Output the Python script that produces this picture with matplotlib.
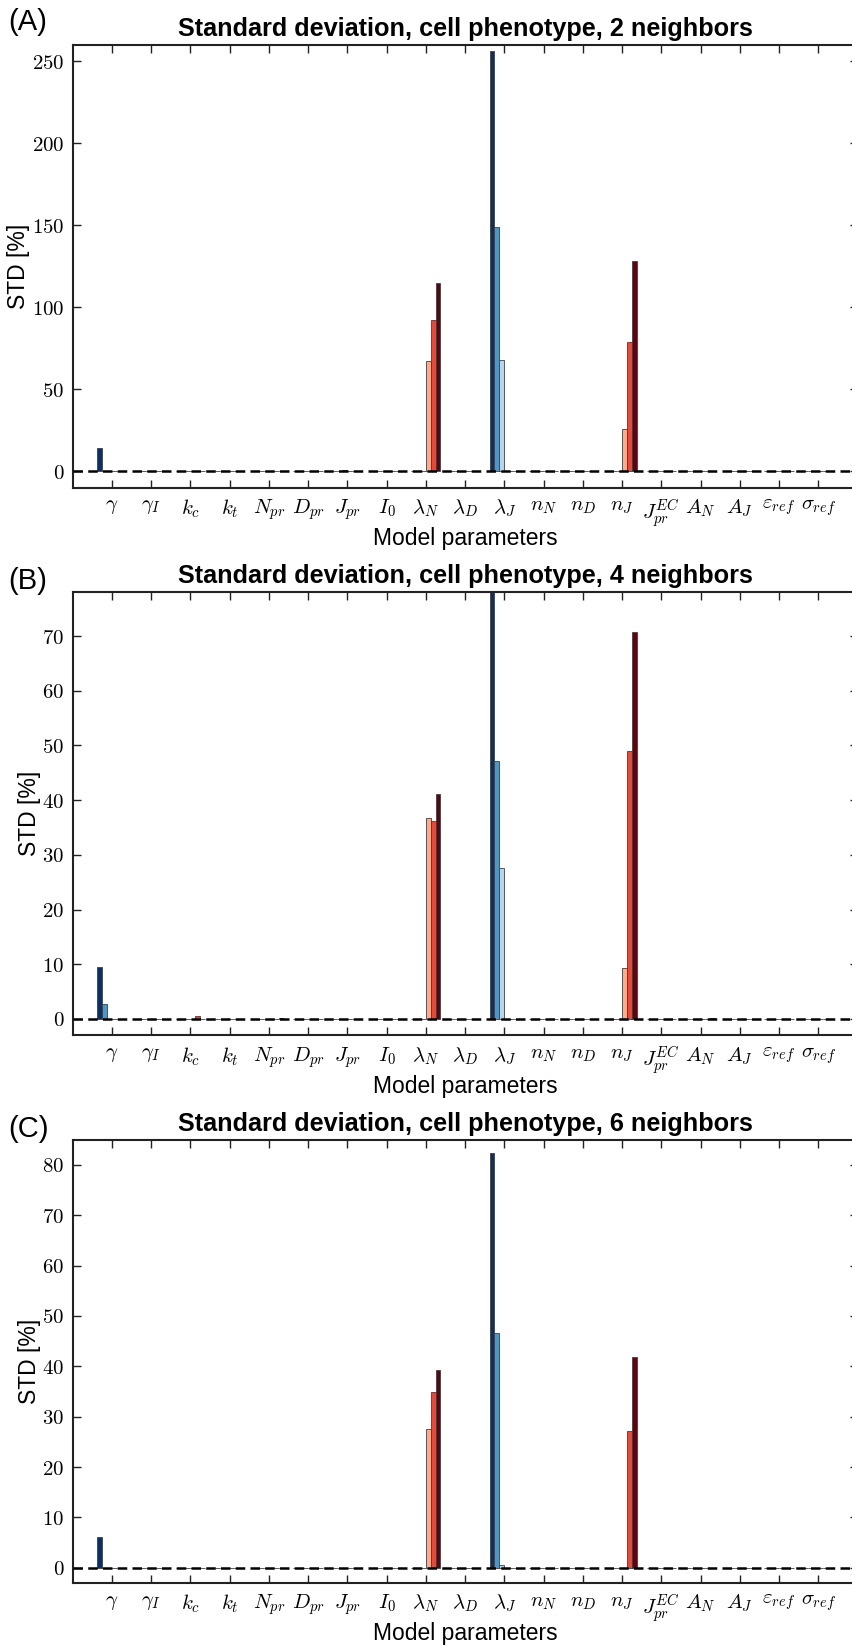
import matplotlib
matplotlib.use("Agg")
import matplotlib.pyplot as plt
import numpy as np
from matplotlib.ticker import FuncFormatter

plt.rcParams['font.family'] = ['Liberation Sans', 'DejaVu Sans']
plt.rcParams['mathtext.fontset'] = 'cm'

# Parametri del modello (asse x)
param_labels = [r'$\gamma$', r'$\gamma_I$', r'$k_c$', r'$k_t$', r'$N_{pr}$', r'$D_{pr}$',
                r'$J_{pr}$', r'$I_0$', r'$\lambda_N$', r'$\lambda_D$', r'$\lambda_J$',
                r'$n_N$', r'$n_D$', r'$n_J$', r'$J_{pr}^{EC}$', r'$A_N$', r'$A_J$',
                r'$\varepsilon_{ref}$', r'$\sigma_{ref}$']

titles = ["Standard deviation, cell phenotype, 2 neighbors",
          "Standard deviation, cell phenotype, 4 neighbors",
          "Standard deviation, cell phenotype, 6 neighbors"]
panel_tags = ["(A)", "(B)", "(C)"]

# STD [%] - 2 neighbors
a_blue_dark  = [14.5, 0, 0, 0, 0, 0, 0, 0, 0, 0, 256, 0, 0, 0, 0, 0, 0, 0, 0]
a_blue_mid   = [0, 0, 0, 0, 0, 0, 0, 0, 0, 0, 149, 0, 0, 0, 0, 0, 0, 0, 0]
a_blue_light = [0, 0, 0, 0, 0, 0, 1.0, 0, 0, 0, 68, 0, 0, 0, 0, 0, 0, 0, 0]
a_red_light  = [0, 0, 0, 0, 0, 0, 0, 0, 67, 0, 0, 0, 0, 26, 0, 0, 0, 0, 0]
a_red_mid    = [0, 0, 0, 0, 0, 0, 0, 0, 92, 0, 0, 0, 0, 79, 0, 0, 0, 0, 0]
a_red_dark   = [0, 0, 0.3, 0, 0, 0, 0, 0, 114.5, 0, 0, 0, 0, 128, 0, 0, 0, 0, 0]

# STD [%] - 4 neighbors
b_blue_dark  = [9.5, 0, 0, 0, 0, 0, 0, 0, 0, 0, 90, 0, 0, 0, 0, 0, 0, 0, 0]
b_blue_mid   = [2.8, 0, 0, 0, 0, 0, 0, 0, 0, 0, 47.2, 0, 0, 0, 0, 0, 0, 0, 0]
b_blue_light = [0, 0, 0, 0, 0, 0, 0, 0, 0, 0, 27.5, 0, 0, 0, 0, 0, 0, 0, 0]
b_red_light  = [0, 0, 0, 0, 0, 0, 0, 0, 36.8, 0, 0, 0, 0, 9.3, 0, 0, 0, 0, 0]
b_red_mid    = [0, 0, 0.5, 0, 0, 0, 0, 0, 36.2, 0, 0, 0, 0, 49.0, 0, 0, 0, 0, 0]
b_red_dark   = [0, 0, 0, 0, 0.2, 0, 0, 0, 41.1, 0, 0, 0, 0, 70.7, 0, 0.2, 0, 0, 0]

# STD [%] - 6 neighbors
c_blue_dark  = [6.0, 0, 0, 0, 0, 0, 0, 0, 0, 0, 82.3, 0, 0, 0, 0, 0, 0, 0, 0]
c_blue_mid   = [0, 0, 0, 0, 0, 0, 0, 0, 0, 0, 46.7, 0, 0, 0, 0, 0, 0, 0, 0]
c_blue_light = [0, 0, 0, 0, 0, 0, 0, 0, 0, 0, 0.5, 0, 0, 0, 0, 0, 0, 0, 0]
c_red_light  = [0, 0, 0, 0, 0, 0, 0, 0, 27.5, 0, 0, 0, 0, 0, 0, 0, 0, 0, 0]
c_red_mid    = [0, 0, 0, 0, 0, 0, 0, 0, 35.0, 0, 0, 0, 0, 27.2, 0, 0, 0, 0, 0]
c_red_dark   = [0, 0, 0, 0, 0, 0, 0, 0, 39.2, 0, 0, 0, 0, 41.8, 0, 0, 0, 0, 0]

panel_series = [
    [a_blue_dark, a_blue_mid, a_blue_light, a_red_light, a_red_mid, a_red_dark],
    [b_blue_dark, b_blue_mid, b_blue_light, b_red_light, b_red_mid, b_red_dark],
    [c_blue_dark, c_blue_mid, c_blue_light, c_red_light, c_red_mid, c_red_dark],
]
y_limits = [(-10, 260), (-3, 78), (-3, 85)]
y_ticks = [np.arange(0, 251, 50), np.arange(0, 71, 10), np.arange(0, 81, 10)]

bar_colors = [plt.cm.Blues(1.0), plt.cm.Blues(0.6), plt.cm.Blues(0.3),
              plt.cm.Reds(0.3), plt.cm.Reds(0.6), plt.cm.Reds(1.0)]
bar_offsets = [-0.375, -0.25, -0.125, 0.0, 0.125, 0.25]
bar_width = 0.125

fig = plt.figure(figsize=(8.52, 16.45), dpi=100)

# posizione degli assi (l'asse destro esce dalla figura come nell'originale)
ax_left, ax_width, ax_height = 72.5 / 852, 785 / 852, 443 / 1645
ax_bottoms = [1 - 487.7 / 1645, 1 - 1035.3 / 1645, 1 - 1582.8 / 1645]
tag_tops = [8.3, 566.7, 1115.0]

x = np.arange(1, len(param_labels) + 1)

for i in range(3):
    ax = fig.add_axes([ax_left, ax_bottoms[i], ax_width, ax_height])

    for serie, col, off in zip(panel_series[i], bar_colors, bar_offsets):
        ax.bar(x + off, serie, width=bar_width, align='edge', color=col,
               edgecolor='0.25', linewidth=0.6, zorder=2)

    # linea tratteggiata sullo zero
    ax.axhline(0, color='k', lw=1.8, dashes=(3.8, 2.1), zorder=3)

    ax.set_xlim(0, 20)
    ax.set_ylim(*y_limits[i])
    ax.set_xticks(x)
    ax.set_xticklabels(param_labels)
    ax.set_yticks(y_ticks[i])
    ax.yaxis.set_major_formatter(FuncFormatter(lambda v, p: f'${v:g}$'))

    ax.tick_params(direction='in', length=6, width=1.0, top=True, right=True,
                   labelsize=15, color='#222222')
    ax.tick_params(axis='y', pad=6)
    ax.tick_params(axis='x', pad=7)
    for sp in ax.spines.values():
        sp.set_linewidth(1.5)
        sp.set_color('#222222')

    ax.set_xlabel("Model parameters", fontsize=16.5)
    ax.xaxis.set_label_coords(0.5, -0.089)
    ax.set_ylabel("STD [%]", fontsize=16.5, labelpad=1)
    ax.set_title(titles[i], fontsize=18.2, fontweight='bold', pad=6.5)

    fig.text(8.3 / 852, 1 - tag_tops[i] / 1645, panel_tags[i], fontsize=21,
             ha='left', va='top')

fig.savefig("out.png", dpi=100)
plt.close(fig)
